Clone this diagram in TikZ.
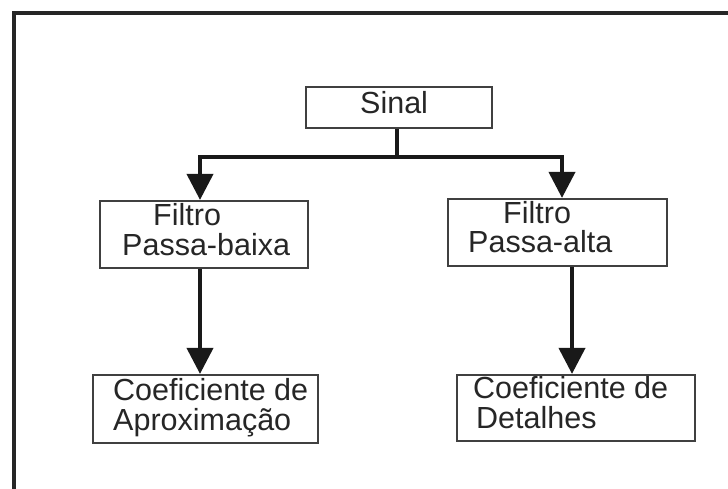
\documentclass[tikz,border=0pt]{standalone}
\usepackage{fontspec}
\setmainfont{Liberation Sans}
\usetikzlibrary{arrows.meta}
\tikzset{
  box/.style={draw=black!75, line width=2.2pt, rectangle, inner sep=0pt, fill=white},
  txt/.style={anchor=base west, inner sep=0pt, text=black!85, font=\fontsize{30.5}{30}\selectfont},
  conn/.style={line width=4pt, black!90, line join=miter},
  tip/.style={-{Triangle[width=26pt,length=26pt]}},
}
\begin{document}
\begin{tikzpicture}[x=1pt,y=-1pt]
\useasboundingbox (0,0) rectangle (728,488);
\fill[white] (0,0) rectangle (728,488);
\begin{scope}
\clip (0,0) rectangle (728,488);
\draw[line width=4pt, black!85] (14,500) -- (14,12.5) -- (740,12.5);
\end{scope}
% boxes
\node[box, minimum width=186pt, minimum height=41pt] (sinal) at (399,107.5) {};
\node[box, minimum width=208pt, minimum height=67pt] (lp) at (204,234.5) {};
\node[box, minimum width=219pt, minimum height=67pt] (hp) at (557.5,232.5) {};
\node[box, minimum width=225pt, minimum height=68pt] (la) at (205.5,409) {};
\node[box, minimum width=238pt, minimum height=66pt] (ld) at (576,408) {};
% texts
\node[txt] (t0) at (360,113) {Sinal};
\node[txt] (t1) at (153,225) {Filtro};
\node[txt] (t2) at (122,255) {Passa-baixa};
\node[txt] (t3) at (503,223) {Filtro};
\node[txt] (t4) at (468,252) {Passa-alta};
\node[txt] (t5) at (113,400) {Coeficiente de};
\node[txt] (t6) at (113,430) {Aproximação};
\node[txt] (t7) at (473,398) {Coeficiente de};
\node[txt] (t8) at (476,428) {Detalhes};
% connectors
\coordinate (hl) at (200,157);
\coordinate (hr) at (562,157);
\draw[conn] ([xshift=-2pt]sinal.south) -- ([xshift=-2pt]sinal.south |- hl);
\draw[conn, {Triangle[width=26pt,length=26pt]}-{Triangle[width=26pt,length=26pt]}]
  (hl |- lp.north) -- (hl) -- (hr) -- (hr |- hp.north);
\draw[conn, tip] ([xshift=-4pt]lp.south) -- ([xshift=-4pt]lp.south |- la.north);
\draw[conn, tip] ([xshift=14.5pt]hp.south) -- ([xshift=14.5pt]hp.south |- ld.north);
\end{tikzpicture}
\end{document}
